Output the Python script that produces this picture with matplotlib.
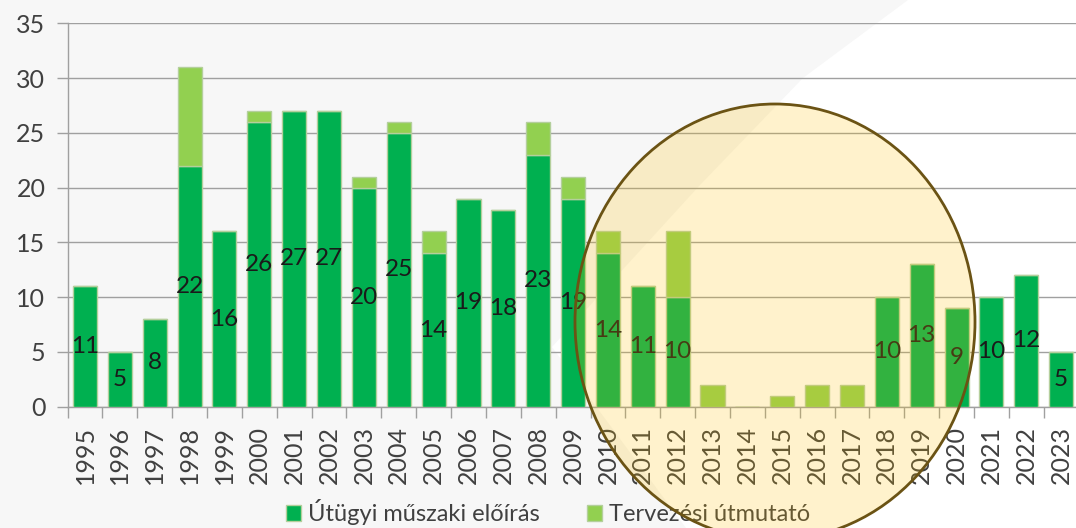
import matplotlib
matplotlib.use("Agg")
import matplotlib.pyplot as plt
import numpy as np
from matplotlib.patches import Ellipse, Polygon, Patch
from matplotlib.ticker import MultipleLocator

years = [str(y) for y in range(1995, 2024)]
eloiras = [11, 5, 8, 22, 16, 26, 27, 27, 20, 25, 14, 19, 18, 23, 19,
           14, 11, 10, 0, 0, 0, 0, 0, 10, 13, 9, 10, 12, 5]
utmutato = [0, 0, 0, 9, 0, 1, 0, 0, 1, 1, 2, 0, 0, 3, 2,
            2, 0, 6, 2, 0, 1, 2, 2, 0, 0, 0, 0, 0, 0]

FONT = ["Lato", "DejaVu Sans"]
plt.rcParams["font.family"] = FONT

W, H = 1076, 528
fig = plt.figure(figsize=(W / 100, H / 100), dpi=100, facecolor="#f7f7f7")


def px(x, y):
    return (x / W, 1 - y / H)


# white wedge in the background (upper right)
bg = Polygon([px(908, 0), px(W, 0), px(W, H), px(686, H), px(552, 347), px(700, 185), px(803, 78)],
             closed=True, transform=fig.transFigure, facecolor="white", edgecolor="none", zorder=-10)
fig.add_artist(bg)

ax = fig.add_axes([67.6 / W, 1 - 406.7 / H, (29 * 34.86) / W, (406.7 - 23.3) / H])
ax.set_facecolor("none")

x = np.arange(len(years))
dark = "#00b050"
light = "#92d050"
edge = "#b4cf9c"
ax.bar(x, eloiras, width=0.69, color=dark, edgecolor=edge, linewidth=1, zorder=3,
       label="Útügyi műszaki előírás")
ax.bar(x, utmutato, width=0.69, bottom=eloiras, color=light, edgecolor=edge, linewidth=1, zorder=3,
       label="Tervezési útmutató")

for xi, v in zip(x, eloiras):
    if v > 0:
        ax.text(xi, v / 2, str(v), ha="center", va="center", fontsize=17.5,
                color="#1a1a1a", zorder=5)

ax.set_xlim(-0.5, len(years) - 0.5)
ax.set_ylim(0, 35)
ax.yaxis.set_major_locator(MultipleLocator(5))
ax.grid(axis="y", color="#a0a0a0", linewidth=1, zorder=0)
ax.set_axisbelow(True)

ax.set_xticks(x)
ax.set_xticklabels(years, rotation=90, fontsize=18, color="#404040")
ax.set_xticks(np.arange(-0.5, len(years)), minor=True)
ax.tick_params(axis="x", which="major", length=0, pad=14)
ax.tick_params(axis="x", which="minor", length=8, color="#a0a0a0", width=1)
ax.tick_params(axis="y", length=8, color="#a0a0a0", width=1, labelsize=18,
               labelcolor="#404040", pad=8)

for s in ["top", "right"]:
    ax.spines[s].set_visible(False)
for s in ["left", "bottom"]:
    ax.spines[s].set_color("#a0a0a0")
    ax.spines[s].set_linewidth(1)

handles = [Patch(facecolor=dark, edgecolor=edge), Patch(facecolor=light, edgecolor=edge)]
fig.legend(handles, ["Útügyi műszaki előírás", "Tervezési útmutató"],
           loc="center", bbox_to_anchor=px(548, 512), ncol=2, frameon=False,
           fontsize=17, handlelength=0.65, handleheight=0.65, handletextpad=0.3,
           columnspacing=2.0, labelcolor="#404040")

# highlight ellipse
ell = Ellipse(px(775, 322), width=400 / W, height=436 / H, transform=fig.transFigure,
              facecolor=(1.0, 0.75, 0.0, 0.2), edgecolor="#6b5314", linewidth=2, zorder=20)
fig.add_artist(ell)

fig.savefig("out.png", dpi=100, facecolor=fig.get_facecolor())
